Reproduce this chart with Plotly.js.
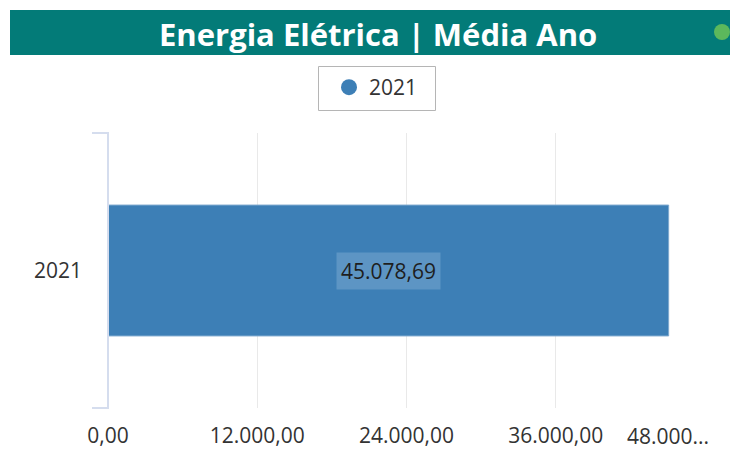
<!DOCTYPE html>
<html>
<head>
<meta charset="utf-8">
<script src="https://cdn.plot.ly/plotly-3.0.1.min.js"></script>
<style>html,body{margin:0;padding:0;background:#fff;}#chart{width:730px;height:474px;}</style>
</head>
<body>
<div id="chart"></div>
<script>
const categories = ['2021'];
const seriesName = '2021';
const values = [45078.69];
const tickVals = [0, 12000, 24000, 36000, 48000];
const tickLabels = ['0,00', '12.000,00', '24.000,00', '36.000,00', '48.000...'];
const titleText = 'Energia Elétrica | Média Ano';

function fmtBR(v){
  return v.toLocaleString('pt-BR',{minimumFractionDigits:2, maximumFractionDigits:2});
}

const barColor = '#3d7fb6';
const font = '"Segoe UI", "Open Sans", "Noto Sans", sans-serif';
const fs = 21;

const traces = [
  {
    type:'bar', orientation:'h', y:categories, x:values, name:seriesName,
    marker:{color:barColor, line:{color:'#7fa9cf', width:1}}, width:0.476, showlegend:false,
    hoverinfo:'skip'
  },
  {
    type:'scatter', mode:'markers', x:[null], y:[null], name:seriesName,
    marker:{color:barColor, size:17, symbol:'circle'}, showlegend:true
  }
];

const lastIdx = tickVals.length - 1;
const shownTicks = tickLabels.map((t,i)=> i===lastIdx ? '' : t);

const annotations = values.map((v,i)=>({
  x:v/2, y:i, xref:'x', yref:'y', text:fmtBR(v), showarrow:false,
  font:{family:font, size:fs, color:'#1e1e1e'}, bgcolor:'#5d95c4', borderpad:4
}));
annotations.push({
  xref:'x', yref:'paper', x:tickVals[lastIdx], y:(474-436)/474, text:tickLabels[lastIdx], showarrow:false,
  xanchor:'right', yanchor:'middle', xshift:6,
  font:{family:font, size:fs, color:'#333333'}
});
annotations.push({
  xref:'paper', yref:'paper', x:378/730, y:(474-34)/474, text:'<b>'+titleText+'</b>', showarrow:false,
  font:{family:'"Open Sans", sans-serif', size:31, color:'#ffffff'},
  xanchor:'center', yanchor:'middle'
});

const axisCol = '#d5ddee';
const shapes = [
  {type:'rect', xref:'paper', yref:'paper', x0:10/730, x1:1, y0:(474-55)/474, y1:(474-10)/474, fillcolor:'#037b78', line:{width:0}, layer:'below'},
  {type:'circle', xref:'paper', yref:'paper', x0:714/730, x1:730/730, y0:(474-40)/474, y1:(474-24)/474, fillcolor:'#5cb85c', line:{width:0}},
  {type:'rect', xref:'paper', yref:'paper', x0:318.5/730, x1:435.5/730, y0:(474-110.5)/474, y1:(474-66.5)/474, fillcolor:'rgba(0,0,0,0)', line:{color:'#b5b5b5', width:1}},
  {type:'line', xref:'x domain', yref:'y domain', x0:0, x1:0, y0:0, y1:1, line:{color:axisCol, width:2}},
  {type:'line', xref:'paper', yref:'y domain', x0:92/730, x1:109/730, y0:1, y1:1, line:{color:axisCol, width:2}},
  {type:'line', xref:'paper', yref:'y domain', x0:92/730, x1:109/730, y0:0, y1:0, line:{color:axisCol, width:2}}
];

const layout = {
  width:730, height:474,
  margin:{l:0, r:0, t:0, b:0},
  paper_bgcolor:'#ffffff', plot_bgcolor:'#ffffff',
  font:{family:font, color:'#333333'},
  showlegend:true,
  legend:{
    orientation:'h', x:376/730, xanchor:'center', y:(474-67)/474, yanchor:'top',
    borderwidth:0, bgcolor:'rgba(0,0,0,0)',
    font:{family:font, size:fs, color:'#333333'}, itemwidth:30
  },
  xaxis:{
    domain:[108/730, 705/730], range:[0, 48000], tickvals:tickVals, ticktext:shownTicks,
    showgrid:true, gridcolor:'#e9e9e9', gridwidth:1, zeroline:false, showline:false,
    tickfont:{family:font, size:fs, color:'#333333'}, ticks:'', ticklabelstandoff:13, fixedrange:true
  },
  yaxis:{
    domain:[(474-408)/474, (474-133)/474], range:[-0.5, 0.5], type:'category',
    showgrid:false, zeroline:false, showline:false, ticks:'',
    tickfont:{family:font, size:fs, color:'#333333'}, ticklabelstandoff:25, fixedrange:true
  },
  annotations:annotations,
  shapes:shapes,
  bargap:0
};

Plotly.newPlot('chart', traces, layout, {displayModeBar:false, staticPlot:true});
</script>
</body>
</html>
